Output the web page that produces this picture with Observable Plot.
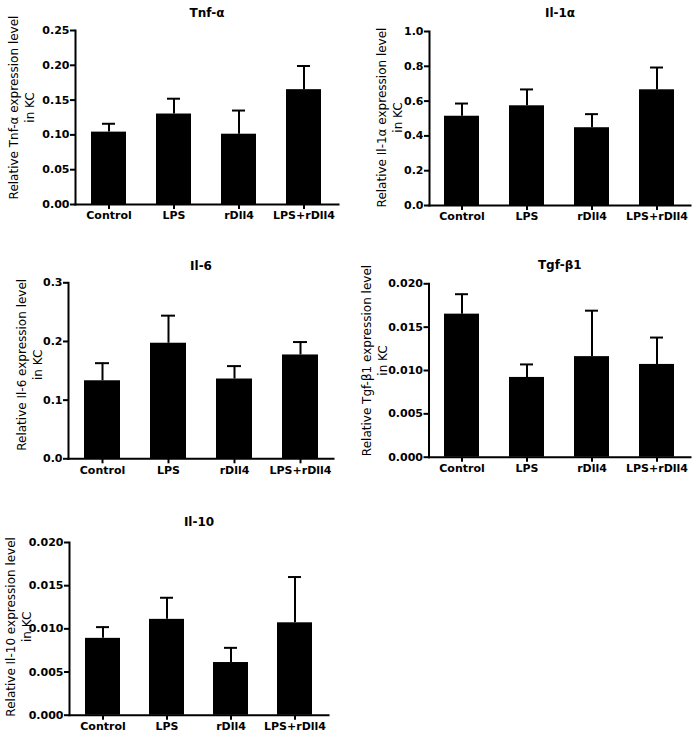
<!DOCTYPE html>
<html>
<head>
<meta charset="utf-8">
<script src="https://cdn.jsdelivr.net/npm/d3@7"></script>
<script src="https://cdn.jsdelivr.net/npm/@observablehq/plot@0.6"></script>
<style>
  html, body { margin: 0; padding: 0; background: white; }
  #root { position: relative; width: 694px; height: 732px; background: white; overflow: hidden; }
  #root > div { position: absolute; }
  svg { overflow: visible; }
</style>
</head>
<body>
<div id="root"></div>
<script>
// ---- Data ----
const categories = ["Control", "LPS", "rDll4", "LPS+rDll4"];

const tnfMean = [0.104, 0.130, 0.101, 0.165];
const tnfSem  = [0.012, 0.022, 0.034, 0.034];
const tnfTicks = [0, 0.05, 0.10, 0.15, 0.20, 0.25];

const il1Mean = [0.513, 0.573, 0.447, 0.665];
const il1Sem  = [0.073, 0.094, 0.078, 0.128];
const il1Ticks = [0, 0.2, 0.4, 0.6, 0.8, 1.0];

const il6Mean = [0.133, 0.197, 0.136, 0.177];
const il6Sem  = [0.030, 0.047, 0.022, 0.022];
const il6Ticks = [0, 0.1, 0.2, 0.3];

const tgfMean = [0.0165, 0.0092, 0.0116, 0.0107];
const tgfSem  = [0.0023, 0.0015, 0.0053, 0.0031];
const tgfTicks = [0, 0.005, 0.010, 0.015, 0.020];

const il10Mean = [0.0089, 0.0111, 0.0061, 0.0107];
const il10Sem  = [0.0013, 0.0025, 0.0017, 0.0053];
const il10Ticks = [0, 0.005, 0.010, 0.015, 0.020];

const titles = ["Tnf-α", "Il-1α", "Il-6", "Tgf-β1", "Il-10"];
const ylabels = [
  "Relative Tnf-α expression level\nin KC",
  "Relative Il-1α expression level\nin KC",
  "Relative Il-6 expression level\nin KC",
  "Relative Tgf-β1 expression level\nin KC",
  "Relative Il-10 expression level\nin KC"
];

// ---- Layout ----
const panels = [
  {title: titles[0], ylabel: ylabels[0], mean: tnfMean, sem: tnfSem, ticks: tnfTicks, fmt: ".2f",
   left: 0, top: 0, width: 347, height: 230, mL: 75, mR: 9, mT: 30, mB: 26, titleDy: -22.5, lDx: -55, lDy: -10},
  {title: titles[1], ylabel: ylabels[1], mean: il1Mean, sem: il1Sem, ticks: il1Ticks, fmt: ".1f",
   left: 347, top: 0, width: 347, height: 230, mL: 82, mR: 4, mT: 31, mB: 25, titleDy: -22.7, lDx: -41, lDy: -1},
  {title: titles[2], ylabel: ylabels[2], mean: il6Mean, sem: il6Sem, ticks: il6Ticks, fmt: ".1f",
   left: 0, top: 240, width: 347, height: 240, mL: 68, mR: 14, mT: 42.3, mB: 21.7, titleDy: -21.6, lDx: -40, lDy: -6},
  {title: titles[3], ylabel: ylabels[3], mean: tgfMean, sem: tgfSem, ticks: tgfTicks, fmt: ".3f",
   left: 347, top: 240, width: 347, height: 240, mL: 81.5, mR: 4, mT: 43.3, mB: 23.3, titleDy: -23.3, lDx: -55.5, lDy: -10},
  {title: titles[4], ylabel: ylabels[4], mean: il10Mean, sem: il10Sem, ticks: il10Ticks, fmt: ".3f",
   left: 0, top: 480, width: 347, height: 252, mL: 69, mR: 19, mT: 62, mB: 17.3, titleDy: -25.3, lDx: -51.5, lDy: -2}
];

const root = document.getElementById("root");

for (const p of panels) {
  const rows = categories.map((c, i) => ({cat: c, mean: p.mean[i], top: p.mean[i] + p.sem[i]}));
  const fmt = d3.format(p.fmt);
  const chart = Plot.plot({
    width: p.width,
    height: p.height,
    marginLeft: p.mL,
    marginRight: p.mR,
    marginTop: p.mT,
    marginBottom: p.mB,
    style: {fontFamily: "DejaVu Sans", fontSize: "11px", fontWeight: "bold", color: "black", background: "white", overflow: "visible"},
    x: {type: "band", domain: categories, paddingInner: 0.46, paddingOuter: 0.23, label: null},
    y: {domain: [0, p.ticks[p.ticks.length - 1]], label: null},
    marks: [
      Plot.barY(rows, {x: "cat", y: "mean", fill: "black"}),
      Plot.ruleX(rows, {x: "cat", y1: "mean", y2: "top", stroke: "black", strokeWidth: 2}),
      Plot.tickY(rows, {x: "cat", y: "top", stroke: "black", strokeWidth: 2, insetLeft: 11, insetRight: 11}),
      Plot.axisX({tickSize: 5, tickPadding: 2, strokeWidth: 2, label: null}),
      Plot.axisY({ticks: p.ticks, tickFormat: fmt, tickSize: 5, tickPadding: 1, strokeWidth: 2, label: null}),
      Plot.frame({anchor: "left", stroke: "black", strokeWidth: 2}),
      Plot.frame({anchor: "bottom", stroke: "black", strokeWidth: 2}),
      Plot.text([p.title], {frameAnchor: "top", dy: p.titleDy, fontWeight: "bold", fontSize: 12, fill: "black"}),
      Plot.text([p.ylabel], {frameAnchor: "left", textAnchor: "middle", lineAnchor: "middle", rotate: -90, dx: p.lDx, dy: p.lDy, fontWeight: "normal", fontSize: 12, lineHeight: 1.33, fill: "black"})
    ]
  });
  const wrap = document.createElement("div");
  wrap.style.left = p.left + "px";
  wrap.style.top = p.top + "px";
  wrap.appendChild(chart);
  root.appendChild(wrap);
}
</script>
</body>
</html>
